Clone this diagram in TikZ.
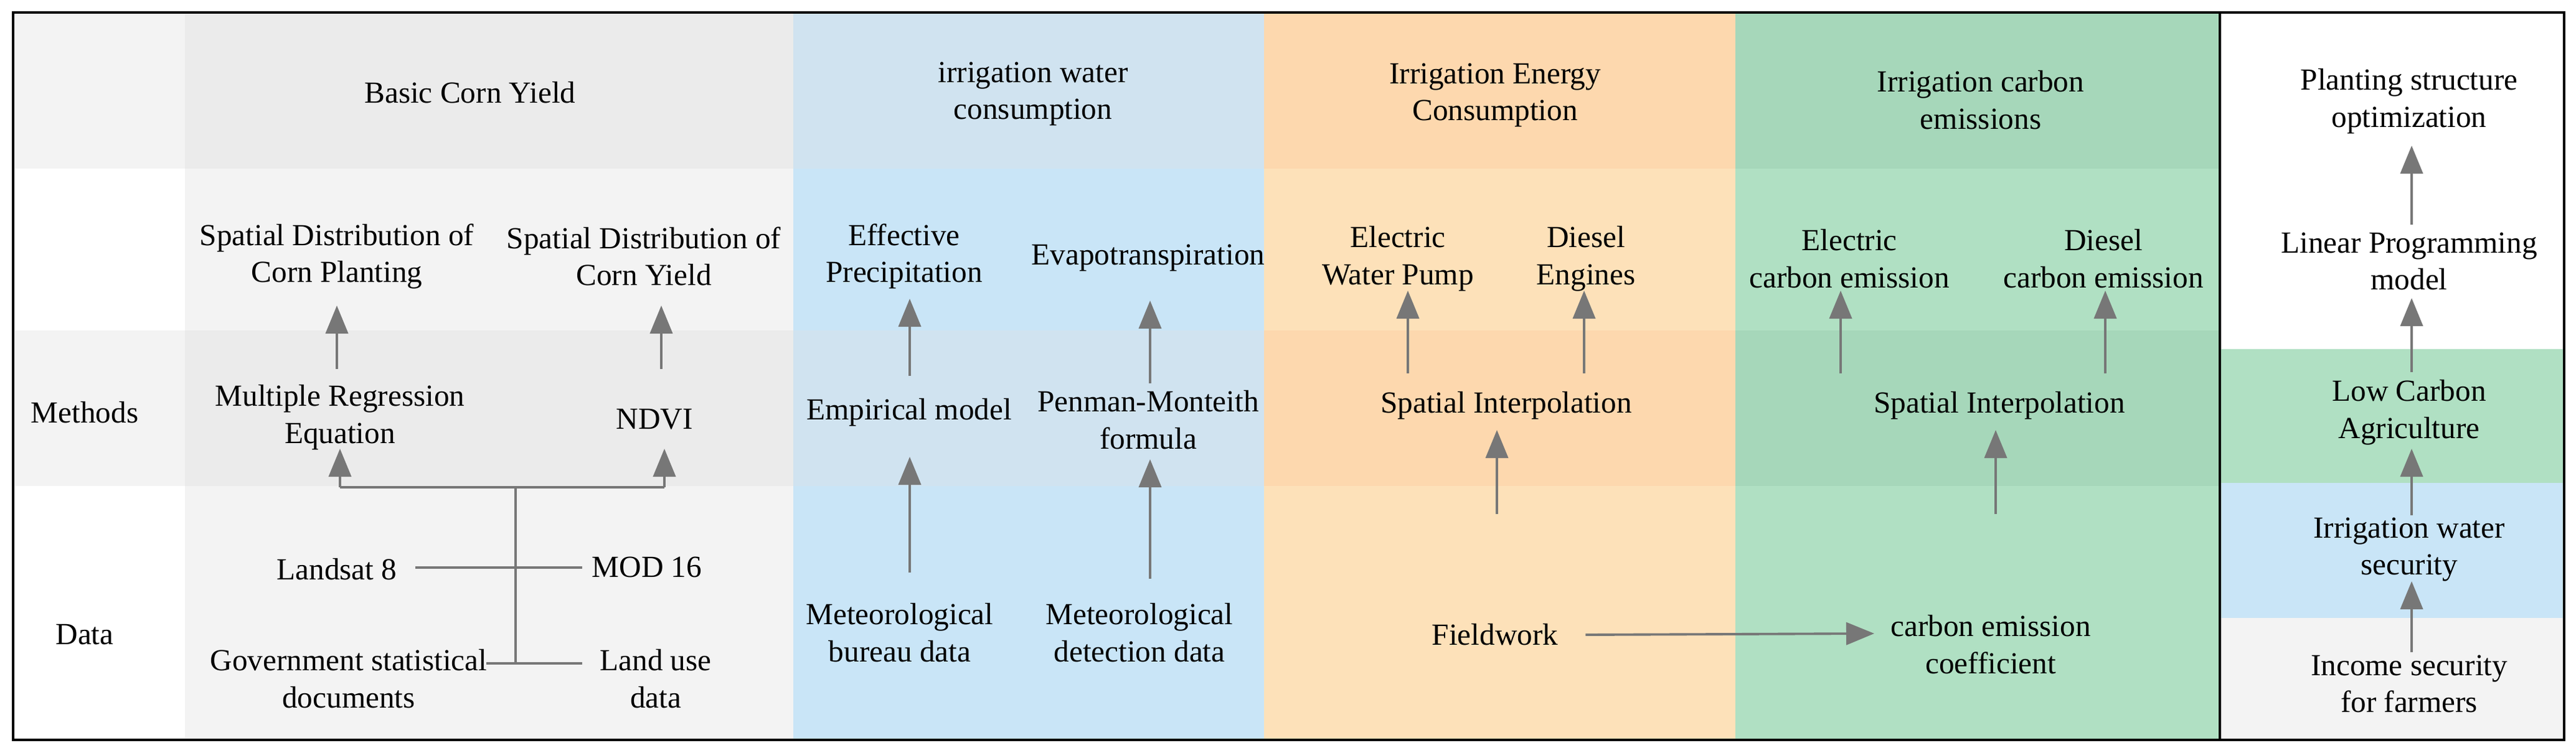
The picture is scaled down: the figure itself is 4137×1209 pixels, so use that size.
\documentclass[tikz,border=0pt]{standalone}
\usepackage{fontspec}
\setmainfont{Liberation Serif}
\usetikzlibrary{arrows.meta}
\definecolor{grayH}{HTML}{EBEBEB}
\definecolor{grayL}{HTML}{F3F3F3}
\definecolor{blueH}{HTML}{D0E3F0}
\definecolor{blueL}{HTML}{C9E5F7}
\definecolor{orangeH}{HTML}{FDD8AE}
\definecolor{orangeL}{HTML}{FDE1B9}
\definecolor{greenH}{HTML}{A6D7BA}
\definecolor{greenL}{HTML}{B0E0C3}
\definecolor{arrowgray}{HTML}{777777}
\tikzset{
  txt/.style={align=center,font=\fontsize{14}{17}\selectfont,inner sep=1pt},
  up/.style={draw=arrowgray,line width=1.1pt,-{Triangle[width=0.36cm,length=0.45cm]}},
  ln/.style={draw=arrowgray,line width=1.1pt}
}
\begin{document}
\begin{tikzpicture}[x=0.01cm,y=-0.01cm]
\useasboundingbox (0,0) rectangle (4137,1209);

% backgrounds
\fill[grayL] (21,20) rectangle (297,271);
\fill[grayL] (21,531) rectangle (297,781);
\fill[grayH] (297,20) rectangle (1274,271);
\fill[grayL] (297,271) rectangle (1274,531);
\fill[grayH] (297,531) rectangle (1274,781);
\fill[grayL] (297,781) rectangle (1274,1189);
\fill[blueH] (1274,20) rectangle (2030,271);
\fill[blueL] (1274,271) rectangle (2030,531);
\fill[blueH] (1274,531) rectangle (2030,781);
\fill[blueL] (1274,781) rectangle (2030,1189);
\fill[orangeH] (2030,20) rectangle (2787,271);
\fill[orangeL] (2030,271) rectangle (2787,531);
\fill[orangeH] (2030,531) rectangle (2787,781);
\fill[orangeL] (2030,781) rectangle (2787,1189);
\fill[greenH] (2787,20) rectangle (3565,271);
\fill[greenL] (2787,271) rectangle (3565,531);
\fill[greenH] (2787,531) rectangle (3565,781);
\fill[greenL] (2787,781) rectangle (3565,1189);
\fill[greenL] (3565,561) rectangle (4118,776);
\fill[blueL] (3565,776) rectangle (4118,993);
\fill[grayL] (3565,993) rectangle (4118,1189);
\draw[line width=1.2pt] (21,20) rectangle (4118,1189);
\draw[line width=1.2pt] (3565,20) -- (3565,1189);

% headers
\node[txt] (corn) at (755,149) {Basic Corn Yield};
\node[txt] (water) at (1659,151) {irrigation water\\consumption};
\node[txt] (energy) at (2401,153) {Irrigation Energy\\Consumption};
\node[txt] (carbon) at (3181,161) {Irrigation carbon\\emissions};
\node[txt] (plant) at (3869,163) {Planting structure\\optimization};

% results
\node[txt] (sdcp) at (541,412) {Spatial Distribution of\\Corn Planting};
\node[txt] (sdcy) at (1034,412) {Spatial Distribution of\\Corn Yield};
\node[txt] (effp) at (1452,412) {Effective\\Precipitation};
\node[txt] (evap) at (1844,414) {Evapotranspiration};
\node[txt] (ewp) at (2245,416) {Electric\\Water Pump};
\node[txt] (dse) at (2547,416) {Diesel\\Engines};
\node[txt] (ece) at (2970,416) {Electric\\carbon emission};
\node[txt] (dce) at (3378,416) {Diesel\\carbon emission};
\node[txt] (lpm) at (3869,420) {Linear Programming\\model};

% methods
\node[txt] (meth) at (136,663) {Methods};
\node[txt] (mre) at (546,671) {Multiple Regression\\Equation};
\node[txt] (ndvi) at (1051,674) {NDVI};
\node[txt] (emp) at (1460,663) {Empirical model};
\node[txt] (pm) at (1844,675) {Penman-Monteith\\formula};
\node[txt] (si1) at (2419,652) {Spatial Interpolation};
\node[txt] (si2) at (3211,652) {Spatial Interpolation};
\node[txt] (lca) at (3869,663) {Low Carbon\\Agriculture};

% data
\node[txt] (data) at (136,1020) {Data};
\node[txt] (lsat) at (541,915) {Landsat 8};
\node[txt] (mod) at (1039,911) {MOD 16};
\node[txt] (gov) at (560,1091) {Government statistical\\documents};
\node[txt] (land) at (1053,1091) {Land use\\data};
\node[txt] (mbd) at (1445,1017) {Meteorological\\bureau data};
\node[txt] (mdd) at (1830,1017) {Meteorological\\detection data};
\node[txt] (field) at (2401,1020) {Fieldwork};
\node[txt] (cec) at (3197,1036) {carbon emission\\coefficient};
\node[txt] (iws) at (3869,883) {Irrigation water\\security};
\node[txt] (isf) at (3869,1099) {Income security\\for farmers};

% tree of data sources
\coordinate (tl) at (546,783);
\coordinate (tr) at (1067,783);
\coordinate (tm) at (828,783);
\coordinate (tb) at (828,1066);
\coordinate (la) at (667,912);
\coordinate (lb) at (935,912);
\coordinate (ga) at (781,1066);
\coordinate (gb) at (935,1066);
\draw[ln] (tl) -- (tr);
\draw[ln] (tm) -- (tb);
\draw[ln] (la) -- (lb);
\draw[ln] (ga) -- (gb);
\draw[up] (tl) -- (546,721);
\draw[up] (tr) -- (1067,721);

% arrows up
\draw[up] (541,593) -- (541,491);
\draw[up] (1062,593) -- (1062,491);
\draw[up] (1461,920) -- (1461,734);
\draw[up] (1461,604) -- (1461,480);
\draw[up] (1847,930) -- (1847,738);
\draw[up] (1847,616) -- (1847,483);
\draw[up] (2261,600) -- (2261,467);
\draw[up] (2544,600) -- (2544,467);
\draw[up] (2404,826) -- (2404,691);
\draw[up] (2956,600) -- (2956,467);
\draw[up] (3381,600) -- (3381,467);
\draw[up] (3205,826) -- (3205,691);
\draw[up] (3873,361) -- (3873,234);
\draw[up] (3873,598) -- (3873,479);
\draw[up] (3873,828) -- (3873,721);
\draw[up] (3873,1048) -- (3873,934);
\draw[up] (field.east)++(40,0) -- (3010,1018);

\end{tikzpicture}
\end{document}
